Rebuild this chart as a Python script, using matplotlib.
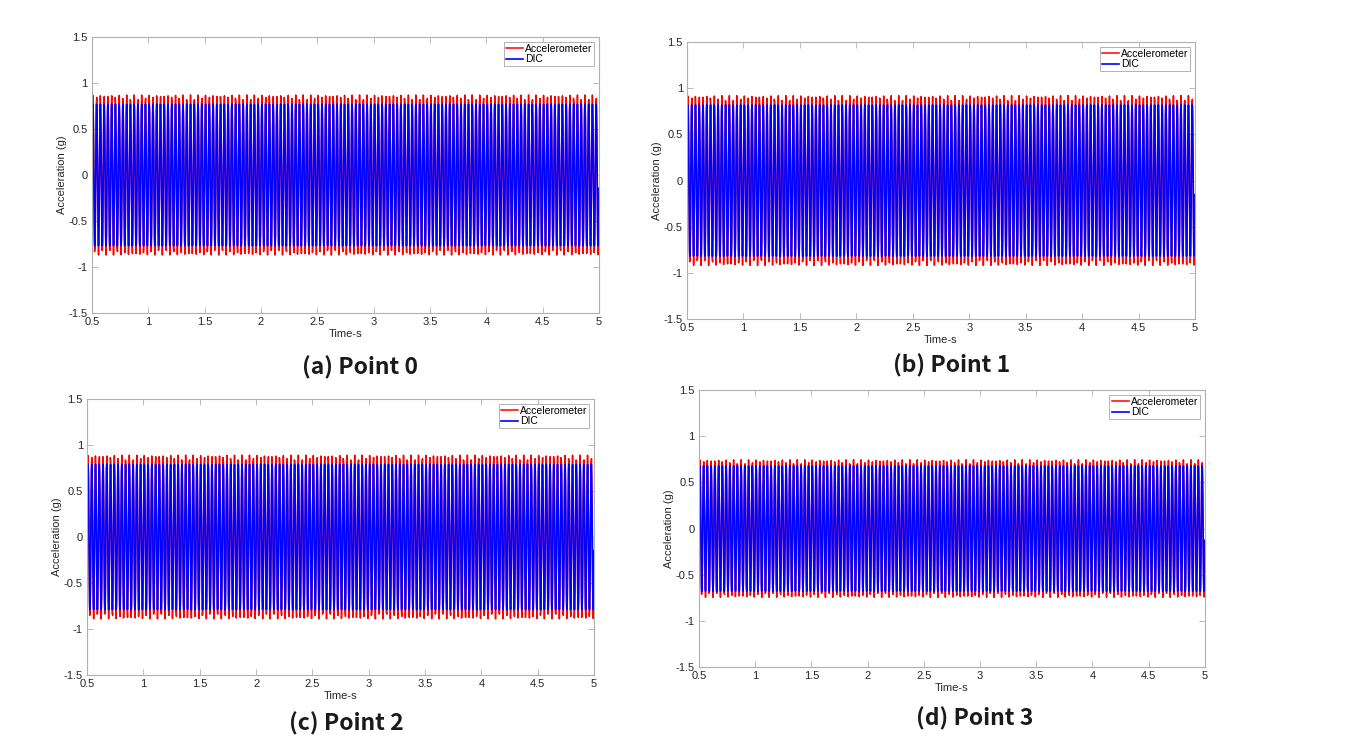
import numpy as np
import matplotlib

matplotlib.use("Agg")
import matplotlib.pyplot as plt

# Steady-state response at the four measurement points
captions = ["(a) Point 0", "(b) Point 1", "(c) Point 2", "(d) Point 3"]
excitation_hz = 30.0
accel_fs = 256.0      # accelerometer sampling rate (Hz)
dic_fs = 1000.0       # DIC sampling rate (Hz)
accel_peak = [0.87, 0.92, 0.89, 0.745]
dic_peak = [0.77, 0.82, 0.79, 0.68]
t_start, t_end = 0.5, 5.0

# axes rectangles in figure fraction [left, bottom, width, height]
axes_boxes = [
    [0.0679, 0.5770, 0.3745, 0.3730],
    [0.5074, 0.5689, 0.3752, 0.3743],
    [0.0643, 0.0878, 0.3745, 0.3730],
    [0.5162, 0.0986, 0.3737, 0.3743],
]
caption_xy = [(0.2659, 0.5027), (0.7031, 0.5054), (0.2555, 0.0216), (0.7201, 0.0284)]

plt.rcParams["font.family"] = ["Liberation Sans", "DejaVu Sans"]

fig = plt.figure(figsize=(13.54, 7.40), dpi=100)
fig.patch.set_facecolor("white")

t_acc = np.arange(t_start, t_end, 1.0 / accel_fs)
t_dic = np.arange(t_start, t_end, 1.0 / dic_fs)

for i, box in enumerate(axes_boxes):
    ax = fig.add_axes(box)
    acc = accel_peak[i] * np.sin(2 * np.pi * excitation_hz * t_acc)
    dic = dic_peak[i] * np.sin(2 * np.pi * excitation_hz * t_dic)
    ax.plot(t_acc, acc, color="#ff0000", lw=1.1, label="Accelerometer")
    ax.plot(t_dic, dic, color="#0000ff", lw=1.2, label="DIC")

    ax.set_xlim(t_start, t_end)
    ax.set_ylim(-1.5, 1.5)
    ax.set_xticks(np.arange(0.5, 5.01, 0.5))
    ax.set_xticklabels(["0.5", "1", "1.5", "2", "2.5", "3", "3.5", "4", "4.5", "5"])
    ax.set_yticks(np.arange(-1.5, 1.51, 0.5))
    ax.set_yticklabels(["-1.5", "-1", "-0.5", "0", "0.5", "1", "1.5"])
    ax.tick_params(direction="in", top=True, right=True, length=4, width=0.6,
                   color="#b0b0b0", labelsize=8, labelcolor="#262626", pad=3)
    for spine in ax.spines.values():
        spine.set_color("#b0b0b0")
        spine.set_linewidth(0.8)
    ax.set_xlabel("Time-s", fontsize=8, color="#262626", labelpad=1)
    ax.set_ylabel("Acceleration (g)", fontsize=8, color="#262626", labelpad=1)

    leg = ax.legend(loc="upper right", fontsize=7.5, frameon=True, fancybox=False,
                    handlelength=1.7, handletextpad=0.15, borderpad=0.2,
                    labelspacing=0.05, borderaxespad=0.45)
    leg.get_frame().set_edgecolor("#a0a0a0")
    leg.get_frame().set_linewidth(0.7)

    fig.text(caption_xy[i][0], caption_xy[i][1], captions[i], ha="center", va="center",
             fontsize=16.5, fontweight="bold", family=["Noto Sans CJK SC", "DejaVu Sans"],
             color="#1a1a1a")

fig.savefig("out.png", dpi=100)
